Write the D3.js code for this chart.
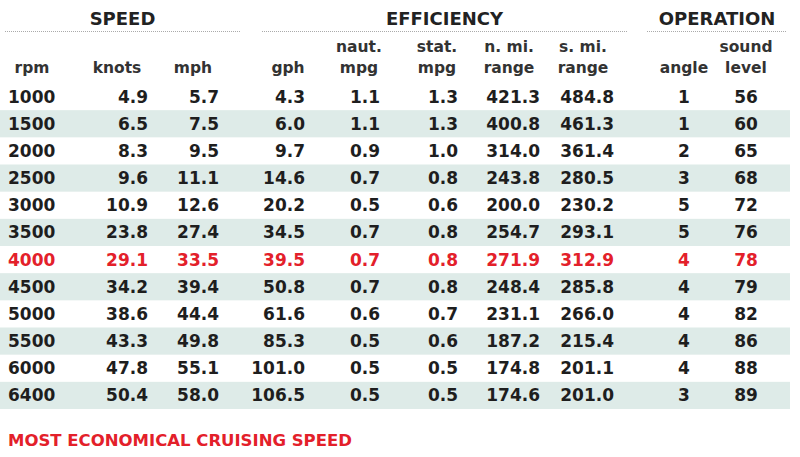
<!DOCTYPE html><html><head><meta charset="utf-8"><script src="https://cdn.jsdelivr.net/npm/d3@7"></script>
<style>body{margin:0;background:#fff}text{font-family:"DejaVu Sans",sans-serif}</style></head><body><svg id="c" width="800" height="457"></svg><script>
const rpm=[1000,1500,2000,2500,3000,3500,4000,4500,5000,5500,6000,6400];
const knots=["4.9","6.5","8.3","9.6","10.9","23.8","29.1","34.2","38.6","43.3","47.8","50.4"];
const mph=["5.7","7.5","9.5","11.1","12.6","27.4","33.5","39.4","44.4","49.8","55.1","58.0"];
const gph=["4.3","6.0","9.7","14.6","20.2","34.5","39.5","50.8","61.6","85.3","101.0","106.5"];
const nautMpg=["1.1","1.1","0.9","0.7","0.5","0.7","0.7","0.7","0.6","0.5","0.5","0.5"];
const statMpg=["1.3","1.3","1.0","0.8","0.6","0.8","0.8","0.8","0.7","0.6","0.5","0.5"];
const nmiRange=["421.3","400.8","314.0","243.8","200.0","254.7","271.9","248.4","231.1","187.2","174.8","174.6"];
const smiRange=["484.8","461.3","361.4","280.5","230.2","293.1","312.9","285.8","266.0","215.4","201.1","201.0"];
const angle=[1,1,2,3,5,5,4,4,4,4,4,3];
const sound=[56,60,65,68,72,76,78,79,82,86,88,89];
const highlightRpm=4000;
const groups=[["SPEED",5,240],["EFFICIENCY",262,627],["OPERATION",647,787]];
const footer="MOST ECONOMICAL CRUISING SPEED";
const cols=[
 {h:["","rpm"],v:rpm,x:8,a:"start",hx:32},
 {h:["","knots"],v:knots,x:148,a:"end",hx:117},
 {h:["","mph"],v:mph,x:219,a:"end",hx:193},
 {h:["","gph"],v:gph,x:305,a:"end",hx:288},
 {h:["naut.","mpg"],v:nautMpg,x:380,a:"end",hx:359},
 {h:["stat.","mpg"],v:statMpg,x:458,a:"end",hx:437},
 {h:["n. mi.","range"],v:nmiRange,x:540,a:"end",hx:509},
 {h:["s. mi.","range"],v:smiRange,x:614,a:"end",hx:583},
 {h:["","angle"],v:angle,x:684,a:"middle",hx:684},
 {h:["sound","level"],v:sound,x:746,a:"middle",hx:746}];
const svg=d3.select("#c");
const y=d3.scaleBand().domain(rpm).range([83,409]).padding(0);
svg.selectAll("rect.band").data(rpm.filter((d,i)=>i%2==1)).join("rect")
 .attr("x",0).attr("width",790).attr("y",d=>y(d)).attr("height",y.bandwidth()).attr("fill","#deebe8");
groups.forEach(g=>{
 svg.append("text").attr("x",(g[1]+g[2])/2).attr("y",25).attr("text-anchor","middle").attr("font-size",18).attr("font-weight",700).attr("fill","#222").text(g[0]);
 svg.append("line").attr("x1",g[1]).attr("x2",g[2]).attr("y1",31.5).attr("y2",31.5).attr("stroke","#aaa").attr("stroke-dasharray","1,1");
});
cols.forEach(c=>{
 c.h.forEach((t,k)=>{ if(t) svg.append("text").attr("x",c.hx).attr("y",k?73:52).attr("text-anchor","middle").attr("font-size",15.5).attr("font-weight",700).attr("fill","#333").text(t);});
 svg.selectAll(null).data(c.v).join("text").attr("x",c.x).attr("y",(d,i)=>y(rpm[i])+y.bandwidth()/2+6)
  .attr("text-anchor",c.a).attr("font-size",17).attr("font-weight",700)
  .attr("fill",(d,i)=>rpm[i]===highlightRpm?"#e3202a":"#1e1e1e").text(d=>d);
});
svg.append("text").attr("x",8).attr("y",446).attr("font-size",16.5).attr("font-weight",700).attr("fill","#e3202a").text(footer);
</script></body></html>
